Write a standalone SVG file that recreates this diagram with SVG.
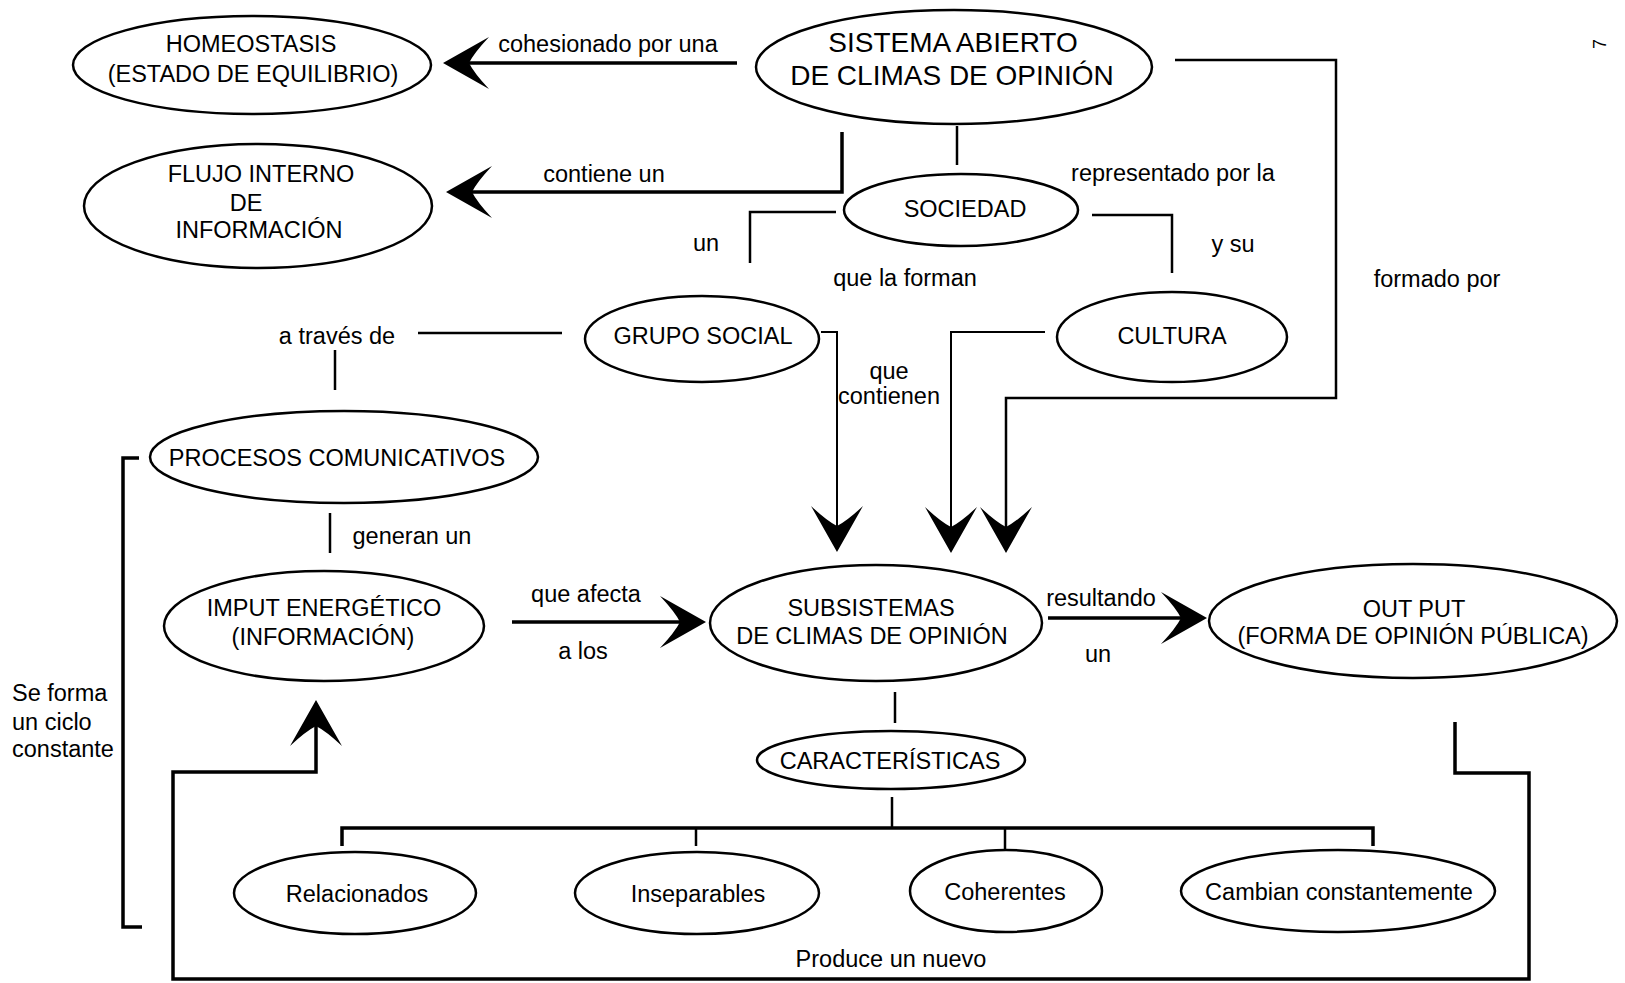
<svg xmlns="http://www.w3.org/2000/svg" width="1625" height="983" viewBox="0 0 1625 983">
<style>
  .bg { fill: #ffffff; }
  .node ellipse { fill: #ffffff; stroke: #000; stroke-width: 2.5; }
  text { font-family: "Liberation Sans", Arial, Helvetica, sans-serif; font-size: 23.5px; fill: #000; text-anchor: middle; }
  .big { font-size: 28px; }
  .left { text-anchor: start; }
  .conn path, .conn line, .conn polyline { fill: none; stroke: #000; stroke-width: 2.5; }
  .conn .heavy { stroke-width: 3.5; }
  .conn .thin { stroke-width: 2; }
</style>
<defs>
  <marker id="arr" viewBox="-45 -30 55 60" refX="0" refY="0" markerWidth="55" markerHeight="60" markerUnits="userSpaceOnUse" orient="auto">
    <path d="M6,0 L-40,-26 Q-25,-10 -20,0 Q-25,10 -40,26 Z" fill="#000"/>
  </marker>
</defs>
<rect class="bg" x="0" y="0" width="1625" height="983"/>

<g id="nodes">
  <g id="homeostasis" class="node">
    <ellipse cx="252" cy="65" rx="179" ry="49"/>
    <text x="251" y="51.5">HOMEOSTASIS</text>
    <text x="253" y="81.5">(ESTADO DE EQUILIBRIO)</text>
  </g>
  <g id="sistema" class="node">
    <ellipse cx="954" cy="67" rx="198" ry="57"/>
    <text class="big" x="953" y="51.5">SISTEMA ABIERTO</text>
    <text class="big" x="952" y="84.5">DE CLIMAS DE OPINIÓN</text>
  </g>
  <g id="flujo" class="node">
    <ellipse cx="258" cy="206" rx="174" ry="62"/>
    <text x="261" y="181.5">FLUJO INTERNO</text>
    <text x="246" y="210.5">DE</text>
    <text x="259" y="237.5">INFORMACIÓN</text>
  </g>
  <g id="sociedad" class="node">
    <ellipse cx="961" cy="210" rx="117" ry="36"/>
    <text x="965" y="216.5">SOCIEDAD</text>
  </g>
  <g id="grupo" class="node">
    <ellipse cx="702" cy="339" rx="117" ry="43"/>
    <text x="703" y="343.5">GRUPO SOCIAL</text>
  </g>
  <g id="cultura" class="node">
    <ellipse cx="1172" cy="337" rx="115" ry="45"/>
    <text x="1172" y="343.5">CULTURA</text>
  </g>
  <g id="procesos" class="node">
    <ellipse cx="344" cy="457" rx="194" ry="46"/>
    <text x="337" y="465.5">PROCESOS COMUNICATIVOS</text>
  </g>
  <g id="imput" class="node">
    <ellipse cx="324" cy="626" rx="160" ry="55"/>
    <text x="324" y="615.5">IMPUT ENERGÉTICO</text>
    <text x="323" y="644.5">(INFORMACIÓN)</text>
  </g>
  <g id="subsistemas" class="node">
    <ellipse cx="876" cy="623" rx="166" ry="58"/>
    <text x="871" y="615.5">SUBSISTEMAS</text>
    <text x="872" y="643.5">DE CLIMAS DE OPINIÓN</text>
  </g>
  <g id="output" class="node">
    <ellipse cx="1413" cy="621" rx="204" ry="57"/>
    <text x="1414" y="616.5">OUT PUT</text>
    <text x="1413" y="643.5">(FORMA DE OPINIÓN PÚBLICA)</text>
  </g>
  <g id="caracteristicas" class="node">
    <ellipse cx="891" cy="760" rx="134" ry="29"/>
    <text x="890" y="768.5">CARACTERÍSTICAS</text>
  </g>
  <g id="relacionados" class="node">
    <ellipse cx="355" cy="893" rx="121" ry="41"/>
    <text x="357" y="901.5">Relacionados</text>
  </g>
  <g id="inseparables" class="node">
    <ellipse cx="697" cy="893" rx="122" ry="41"/>
    <text x="698" y="901.5">Inseparables</text>
  </g>
  <g id="coherentes" class="node">
    <ellipse cx="1006" cy="891" rx="96" ry="41"/>
    <text x="1005" y="899.5">Coherentes</text>
  </g>
  <g id="cambian" class="node">
    <ellipse cx="1338" cy="891" rx="157" ry="41"/>
    <text x="1339" y="899.5">Cambian constantemente</text>
  </g>
</g>

<g id="connectors" class="conn">
  <line class="heavy" x1="737" y1="63" x2="449" y2="63" marker-end="url(#arr)"/>
  <polyline class="heavy" points="842,132 842,192 452,192" marker-end="url(#arr)"/>
  <line x1="957" y1="126" x2="957" y2="165"/>
  <polyline points="836,212 750,212 750,263"/>
  <polyline points="1092,215 1172,215 1172,273"/>
  <polyline points="1175,60 1336,60 1336,398 1006,398 1006,547" marker-end="url(#arr)"/>
  <polyline class="thin" points="821,332 837,332 837,546" marker-end="url(#arr)"/>
  <polyline class="thin" points="1045,332 951,332 951,547" marker-end="url(#arr)"/>
  <line x1="418" y1="333" x2="562" y2="333"/>
  <line x1="335" y1="350" x2="335" y2="390"/>
  <line x1="330" y1="513" x2="330" y2="553"/>
  <line class="heavy" x1="512" y1="622" x2="700" y2="622" marker-end="url(#arr)"/>
  <line class="heavy" x1="1048" y1="618" x2="1201" y2="618" marker-end="url(#arr)"/>
  <line x1="895" y1="692" x2="895" y2="723"/>
  <line x1="892" y1="797" x2="892" y2="828"/>
  <polyline class="heavy" points="342,846 342,828 1373,828 1373,846"/>
  <line x1="696" y1="828" x2="696" y2="846"/>
  <line x1="1005" y1="828" x2="1005" y2="850"/>
  <polyline class="heavy" points="139,458 123,458 123,927 142,927"/>
  <polyline class="heavy" points="1455,722 1455,773 1529,773 1529,979 173,979 173,772 316,772 316,706" marker-end="url(#arr)"/>
</g>

<g id="labels">
  <text x="608" y="52">cohesionado por una</text>
  <text x="604" y="182">contiene un</text>
  <text x="1173" y="181">representado por la</text>
  <text x="706" y="251">un</text>
  <text x="1233" y="252">y su</text>
  <text x="905" y="286">que la forman</text>
  <text x="1437" y="287">formado por</text>
  <text x="337" y="344">a través de</text>
  <text x="889" y="379">que</text>
  <text x="889" y="404">contienen</text>
  <text x="412" y="544">generan un</text>
  <text x="586" y="602">que afecta</text>
  <text x="583" y="659">a los</text>
  <text x="1101" y="606">resultando</text>
  <text x="1098" y="662">un</text>
  <text class="left" x="12" y="701">Se forma</text>
  <text class="left" x="12" y="730">un ciclo</text>
  <text class="left" x="12" y="757">constante</text>
  <text x="891" y="967">Produce un nuevo</text>
  <text x="0" y="0" style="font-size:18px" transform="translate(1606,44) rotate(-90)">7</text>
</g>
</svg>
